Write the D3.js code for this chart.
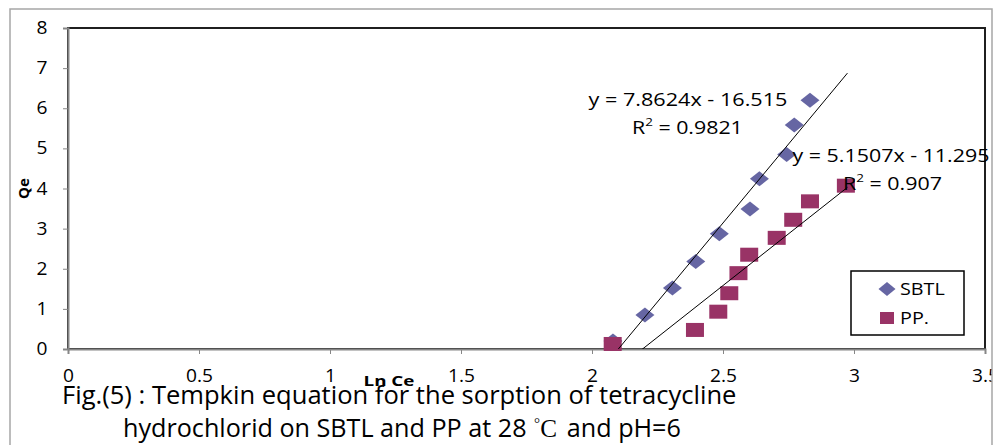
<!DOCTYPE html>
<html>
<head>
<meta charset="utf-8">
<script src="https://cdn.jsdelivr.net/npm/d3@7/dist/d3.min.js"></script>
<style>
  html, body { margin: 0; padding: 0; background: #fff; }
  svg { display: block; }
  text { font-family: "Open Sans", "DejaVu Sans", sans-serif; fill: #000; }
</style>
</head>
<body>
<svg id="chart" width="998" height="445"></svg>
<script>
// Tempkin isotherm: Qe against Ln Ce for two sorbents
const sbtlLnCe = [2.08, 2.202, 2.307, 2.396, 2.486, 2.603, 2.639, 2.743, 2.772, 2.832];
const sbtlQe   = [0.20, 0.85, 1.52, 2.18, 2.87, 3.49, 4.24, 4.85, 5.58, 6.20];
const ppLnCe   = [2.079, 2.393, 2.482, 2.524, 2.559, 2.600, 2.705, 2.768, 2.832, 2.969];
const ppQe     = [0.125, 0.475, 0.93, 1.39, 1.89, 2.35, 2.77, 3.22, 3.68, 4.07];

// Linear fits (slope, intercept, R²)
const sbtlFit = { slope: 7.8624, intercept: -16.515, r2: "0.9821" };
const ppFit   = { slope: 5.1507, intercept: -11.295, r2: "0.907" };
const fitRange = [2.08, 2.975];

const xTicks = [0, 0.5, 1, 1.5, 2, 2.5, 3, 3.5];
const yTicks = [0, 1, 2, 3, 4, 5, 6, 7, 8];
const seriesNames = ["SBTL", "PP."];
const captionLine1 = "Fig.(5) : Tempkin equation for the sorption of tetracycline";

const colDiamond = "#6666a3";
const colSquare = "#993366";

const svg = d3.select("#chart");
const x = d3.scaleLinear().domain([0, 3.5]).range([68, 985]);
const y = d3.scaleLinear().domain([0, 8]).range([349, 28]);

// Stretch a text horizontally around its anchor point
function stretch(sel, sx) {
  sel.each(function () {
    const b = this.getBBox();
    const anchor = this.getAttribute("text-anchor") ||
      getComputedStyle(this).textAnchor || "start";
    const ax = anchor === "middle" ? b.x + b.width / 2 : anchor === "end" ? b.x + b.width : b.x;
    this.setAttribute("transform", `translate(${ax},0) scale(${sx},1) translate(${-ax},0)`);
  });
}
function widthOf(node) { return node.getBBox().width; }
function fitWidth(sel, w) { stretch(sel, w / widthOf(sel.node())); }

// Outer chart frame, with everything inside clipped to it
svg.append("clipPath").attr("id", "frameClip").append("rect")
  .attr("x", 10).attr("y", 9).attr("width", 982).attr("height", 460);
const root = svg.append("g").attr("clip-path", "url(#frameClip)");
root.append("rect").attr("x", 10).attr("y", 9).attr("width", 982).attr("height", 460)
  .attr("fill", "#fff");

// Plot area frame
root.append("rect").attr("x", x(0)).attr("y", y(8))
  .attr("width", x(3.5) - x(0)).attr("height", y(0) - y(8))
  .attr("fill", "#fff").attr("stroke", "#1f1f1f").attr("stroke-width", 2);

// Axes
const yAxis = d3.axisLeft(y).tickValues(yTicks).tickFormat(d3.format("d")).tickSize(5).tickPadding(21);
const xAxis = d3.axisBottom(x).tickValues(xTicks).tickFormat(d => String(d)).tickSize(5).tickPadding(16);

const gy = root.append("g").attr("transform", `translate(${x(0)},0)`).call(yAxis);
const gx = root.append("g").attr("transform", `translate(0,${y(0)})`).call(xAxis);
[gx, gy].forEach(g => {
  g.attr("font-size", 17.5);
  g.select(".domain").attr("stroke", "#868686").attr("stroke-width", 2);
  g.selectAll(".tick line").attr("stroke", "#868686").attr("stroke-width", 1);
  g.selectAll(".tick text").attr("font-size", 17.5).attr("fill", "#000");
});
gy.selectAll(".tick text").attr("text-anchor", "middle");
// scale tick lettering so that "0.5" is 27px wide
const halfLabel = gx.selectAll(".tick text").filter(d => d === 0.5).node();
const tickSx = 27 / widthOf(halfLabel);
stretch(gx.selectAll(".tick text"), tickSx);
stretch(gy.selectAll(".tick text"), tickSx);

// Axis titles
root.append("text").attr("transform", `translate(23,${y(4)}) rotate(-90)`)
  .attr("text-anchor", "middle").attr("dominant-baseline", "central")
  .attr("font-weight", "bold").attr("font-size", 15).text("Qe");
const lnLabel = root.append("text").attr("x", 389).attr("y", 386)
  .attr("text-anchor", "middle").attr("font-weight", "bold").attr("font-size", 14.5).text("Ln Ce");
fitWidth(lnLabel, 51);

// Markers
svg.append("clipPath").attr("id", "plotClip").append("rect")
  .attr("x", x(0)).attr("y", y(8)).attr("width", x(3.5) - x(0)).attr("height", y(0) - y(8));

const diamond = (w, h) => `M0,${-h / 2}L${w / 2},0L0,${h / 2}L${-w / 2},0Z`;

root.append("g").selectAll("path").data(d3.zip(sbtlLnCe, sbtlQe)).join("path")
  .attr("d", diamond(19, 15))
  .attr("transform", d => `translate(${x(d[0])},${y(d[1])})`)
  .attr("fill", colDiamond);

root.append("g").selectAll("rect").data(d3.zip(ppLnCe, ppQe)).join("rect")
  .attr("x", d => x(d[0]) - 9).attr("y", d => y(d[1]) - 7)
  .attr("width", 18).attr("height", 14)
  .attr("fill", colSquare);

// Trend lines
const fitLine = d3.line().x(d => x(d[0])).y(d => y(d[1]));
[sbtlFit, ppFit].forEach(f => {
  const pts = fitRange.map(v => [v, f.slope * v + f.intercept]);
  root.append("path").attr("d", fitLine(pts))
    .attr("clip-path", "url(#plotClip)")
    .attr("fill", "none").attr("stroke", "#000").attr("stroke-width", 1);
});

// Fit equations
function fitLabel(f, cx, cy, width, r2x, r2w) {
  const eq = root.append("text").attr("x", cx).attr("y", cy)
    .attr("text-anchor", "middle").attr("font-size", 17.5)
    .text(`y = ${f.slope}x - ${Math.abs(f.intercept)}`);
  fitWidth(eq, width);
  const t = root.append("text").attr("x", r2x).attr("y", cy + 28).attr("font-size", 17.5);
  t.append("tspan").text("R");
  t.append("tspan").attr("font-size", 11).attr("dy", -8).text("2");
  t.append("tspan").attr("dy", 8).text(" = " + f.r2);
  fitWidth(t, r2w);
}
fitLabel(sbtlFit, 688, 106, 199, 632, 111);
fitLabel(ppFit, 891, 162, 197, 843, 99);

// Legend
const lg = root.append("g");
lg.append("rect").attr("x", 851).attr("y", 271).attr("width", 113).attr("height", 64)
  .attr("fill", "#fff").attr("stroke", "#000").attr("stroke-width", 1.5);
lg.append("path").attr("d", diamond(17, 14)).attr("transform", "translate(887,289)").attr("fill", colDiamond);
lg.append("rect").attr("x", 880).attr("y", 312).attr("width", 14).attr("height", 12).attr("fill", colSquare);
const legTexts = seriesNames.map((name, i) =>
  lg.append("text").attr("x", 900).attr("y", 295 + i * 29).attr("font-size", 17).text(name));
const legSx = 45 / widthOf(legTexts[0].node());
legTexts.forEach(t => stretch(t, legSx));

// Caption
const cap1 = root.append("text").attr("x", 62).attr("y", 404).attr("font-size", 20).text(captionLine1);
const w1 = cap1.node().getComputedTextLength();
const capSize = 20 * 675 / w1;
cap1.attr("font-size", capSize);

const cap2 = root.append("text").attr("x", 123).attr("y", 437).attr("font-size", capSize);
cap2.append("tspan").text("hydrochlorid on SBTL and PP at 28 ");
cap2.append("tspan").attr("font-size", capSize * 0.6).attr("dy", -9).attr("dx", 1)
  .attr("font-family", "'Liberation Serif', serif").text("°");
cap2.append("tspan").attr("dy", 9)
  .attr("font-family", "'Liberation Serif', serif").text("C");
cap2.append("tspan").attr("dx", 10).text("and pH=6");
stretch(cap2, 0.985);

// Frame border on top
svg.append("rect").attr("x", 10).attr("y", 9).attr("width", 982).attr("height", 460)
  .attr("fill", "none").attr("stroke", "#a6a6a6").attr("stroke-width", 1.5);
</script>
</body>
</html>
